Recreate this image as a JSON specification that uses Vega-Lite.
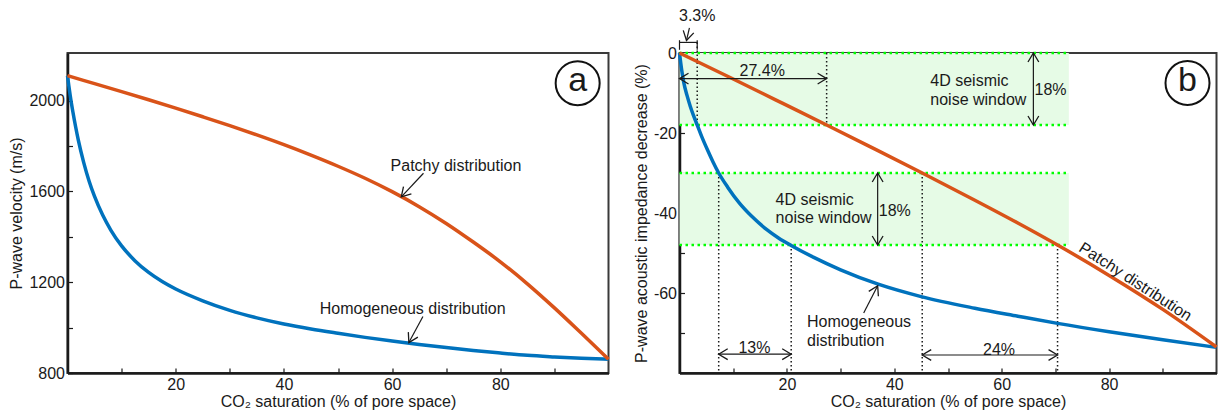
{
  "$schema": "https://vega.github.io/schema/vega-lite/v6.json",
  "background": "white",
  "padding": {"left": 7.5, "top": 7, "right": 0, "bottom": 0},
  "spacing": 71,
  "bounds": "flush",
  "config": {
    "font": "Liberation Sans",
    "view": {"stroke": "#3a3a3a", "strokeWidth": 2},
    "axis": {"domainColor": "#1a1a1a", "domainWidth": 2.5, "tickColor": "#1a1a1a", "tickWidth": 1.2, "tickSize": -5, "labelFontSize": 16, "labelColor": "#1a1a1a", "labelPadding": 8, "titleFontSize": 16, "titleFontWeight": "normal", "titleColor": "#1a1a1a", "grid": false, "labelFont": "Liberation Sans", "titleFont": "Liberation Sans"},
    "axisX": {"titlePadding": 1, "labelPadding": 8},
    "axisY": {"titlePadding": 4},
    "text": {"font": "Liberation Sans", "fontSize": 16, "color": "#1a1a1a"}
  },
  "datasets": {
    "curveA": [
      {"x": 0, "y": 2110, "dist": "Homogeneous"}, {"x": 0.25, "y": 2065, "dist": "Homogeneous"}, {"x": 0.5, "y": 2023, "dist": "Homogeneous"}, {"x": 1, "y": 1950, "dist": "Homogeneous"}, {"x": 1.5, "y": 1885, "dist": "Homogeneous"}, {"x": 2, "y": 1826, "dist": "Homogeneous"}, {"x": 3, "y": 1727, "dist": "Homogeneous"}, {"x": 4, "y": 1645, "dist": "Homogeneous"}, {"x": 5, "y": 1578, "dist": "Homogeneous"}, {"x": 6.5, "y": 1496, "dist": "Homogeneous"}, {"x": 8, "y": 1430, "dist": "Homogeneous"}, {"x": 10, "y": 1360, "dist": "Homogeneous"}, {"x": 12.5, "y": 1294, "dist": "Homogeneous"}, {"x": 15, "y": 1243, "dist": "Homogeneous"}, {"x": 17.5, "y": 1203, "dist": "Homogeneous"}, {"x": 20, "y": 1170, "dist": "Homogeneous"}, {"x": 25, "y": 1118, "dist": "Homogeneous"}, {"x": 30, "y": 1076, "dist": "Homogeneous"}, {"x": 35, "y": 1043, "dist": "Homogeneous"}, {"x": 40, "y": 1016, "dist": "Homogeneous"}, {"x": 45, "y": 994, "dist": "Homogeneous"}, {"x": 50, "y": 975, "dist": "Homogeneous"}, {"x": 55, "y": 957, "dist": "Homogeneous"}, {"x": 60, "y": 941, "dist": "Homogeneous"}, {"x": 65, "y": 926, "dist": "Homogeneous"}, {"x": 70, "y": 912, "dist": "Homogeneous"}, {"x": 75, "y": 899, "dist": "Homogeneous"}, {"x": 80, "y": 888, "dist": "Homogeneous"}, {"x": 85, "y": 878, "dist": "Homogeneous"}, {"x": 90, "y": 871, "dist": "Homogeneous"}, {"x": 95, "y": 865, "dist": "Homogeneous"}, {"x": 100, "y": 861, "dist": "Homogeneous"},
      {"x": 0, "y": 2110, "dist": "Patchy"}, {"x": 5, "y": 2075, "dist": "Patchy"}, {"x": 10, "y": 2040, "dist": "Patchy"}, {"x": 15, "y": 2004, "dist": "Patchy"}, {"x": 20, "y": 1967, "dist": "Patchy"}, {"x": 25, "y": 1929, "dist": "Patchy"}, {"x": 30, "y": 1890, "dist": "Patchy"}, {"x": 35, "y": 1849, "dist": "Patchy"}, {"x": 40, "y": 1806, "dist": "Patchy"}, {"x": 45, "y": 1760, "dist": "Patchy"}, {"x": 50, "y": 1711, "dist": "Patchy"}, {"x": 55, "y": 1658, "dist": "Patchy"}, {"x": 60, "y": 1599, "dist": "Patchy"}, {"x": 65, "y": 1533, "dist": "Patchy"}, {"x": 70, "y": 1459, "dist": "Patchy"}, {"x": 75, "y": 1377, "dist": "Patchy"}, {"x": 80, "y": 1290, "dist": "Patchy"}, {"x": 85, "y": 1193, "dist": "Patchy"}, {"x": 90, "y": 1087, "dist": "Patchy"}, {"x": 95, "y": 975, "dist": "Patchy"}, {"x": 100, "y": 861, "dist": "Patchy"}
    ],
    "curveB": [
      {"x": 0, "y": 0, "dist": "Homogeneous"}, {"x": 0.4, "y": -4.2, "dist": "Homogeneous"}, {"x": 0.8, "y": -7.4, "dist": "Homogeneous"}, {"x": 1.4, "y": -10.6, "dist": "Homogeneous"}, {"x": 2, "y": -13.3, "dist": "Homogeneous"}, {"x": 2.6, "y": -15.6, "dist": "Homogeneous"}, {"x": 3.3, "y": -18, "dist": "Homogeneous"}, {"x": 4.2, "y": -21.1, "dist": "Homogeneous"}, {"x": 5.2, "y": -24.2, "dist": "Homogeneous"}, {"x": 6.2, "y": -27.1, "dist": "Homogeneous"}, {"x": 7.3, "y": -30, "dist": "Homogeneous"}, {"x": 9, "y": -33.6, "dist": "Homogeneous"}, {"x": 11.2, "y": -37.6, "dist": "Homogeneous"}, {"x": 13.5, "y": -40.9, "dist": "Homogeneous"}, {"x": 16.2, "y": -44.1, "dist": "Homogeneous"}, {"x": 18.5, "y": -46.3, "dist": "Homogeneous"}, {"x": 20.8, "y": -48.1, "dist": "Homogeneous"}, {"x": 25, "y": -51.1, "dist": "Homogeneous"}, {"x": 30, "y": -54.2, "dist": "Homogeneous"}, {"x": 37, "y": -57.8, "dist": "Homogeneous"}, {"x": 45, "y": -60.9, "dist": "Homogeneous"}, {"x": 55, "y": -63.8, "dist": "Homogeneous"}, {"x": 63, "y": -65.8, "dist": "Homogeneous"}, {"x": 70.4, "y": -67.6, "dist": "Homogeneous"}, {"x": 80, "y": -69.7, "dist": "Homogeneous"}, {"x": 90, "y": -71.7, "dist": "Homogeneous"}, {"x": 100, "y": -73.6, "dist": "Homogeneous"},
      {"x": 0, "y": 0, "dist": "Patchy"}, {"x": 10, "y": -6.5, "dist": "Patchy"}, {"x": 20, "y": -13.1, "dist": "Patchy"}, {"x": 27.4, "y": -18, "dist": "Patchy"}, {"x": 35, "y": -23.1, "dist": "Patchy"}, {"x": 45.2, "y": -30, "dist": "Patchy"}, {"x": 55, "y": -36.8, "dist": "Patchy"}, {"x": 63, "y": -42.5, "dist": "Patchy"}, {"x": 70.4, "y": -48, "dist": "Patchy"}, {"x": 80, "y": -55.6, "dist": "Patchy"}, {"x": 90, "y": -64.1, "dist": "Patchy"}, {"x": 100, "y": -73.5, "dist": "Patchy"}
    ],
    "bands": [{"x": 0, "x2": 72.5, "y": 0, "y2": -18}, {"x": 0, "x2": 72.5, "y": -30, "y2": -48}],
    "greenLines": [{"x": 0, "x2": 72.5, "y": 0}, {"x": 0, "x2": 72.5, "y": -18}, {"x": 0, "x2": 72.5, "y": -30}, {"x": 0, "x2": 72.5, "y": -48}],
    "vdots": [{"x": 3.3, "y": 2.65, "y2": -18}, {"x": 27.4, "y": 0, "y2": -18}, {"x": 7.3, "y": -30, "y2": -80}, {"x": 20.8, "y": -48, "y2": -80}, {"x": 45.2, "y": -30, "y2": -80}, {"x": 70.4, "y": -48, "y2": -80}],
    "segB": [
      {"x": 0, "y": -6.4, "x2": 27.4, "y2": -6.4},
      {"x": 65.9, "y": 0, "x2": 65.9, "y2": -18},
      {"x": 36.9, "y": -30, "x2": 36.9, "y2": -48},
      {"x": 7.3, "y": -75.3, "x2": 20.8, "y2": -75.3},
      {"x": 45.2, "y": -75.5, "x2": 70.4, "y2": -75.5},
      {"x": 0, "y": 2.65, "x2": 3.3, "y2": 2.65},
      {"x": 0, "y": 0.8, "x2": 0, "y2": 3.2},
      {"x": 3.3, "y": 0.8, "x2": 3.3, "y2": 3.2},
      {"x": 1.85, "y": 6.3, "x2": 1.3, "y2": 3.15},
      {"x": 34.3, "y": -65, "x2": 36.9, "y2": -58.2}
    ],
    "headsB": [
      {"x": 27.4, "y": -6.4, "dir": "right"}, {"x": 20.8, "y": -75.3, "dir": "right"}, {"x": 70.4, "y": -75.5, "dir": "right"},
      {"x": 0, "y": -6.4, "dir": "left"}, {"x": 7.3, "y": -75.3, "dir": "left"}, {"x": 45.2, "y": -75.5, "dir": "left"},
      {"x": 65.9, "y": 0, "dir": "up"}, {"x": 36.9, "y": -30, "dir": "up"},
      {"x": 65.9, "y": -18, "dir": "down"}, {"x": 36.9, "y": -48, "dir": "down"},
      {"x": 1.3, "y": 3.15, "dir": "pointer"},
      {"x": 36.9, "y": -58.2, "dir": "homog"}
    ],
    "textBc": [
      {"x": 3.3, "y": 9.15, "t": "3.3%"}, {"x": 15.4, "y": -4.6, "t": "27.4%"}, {"x": 69.1, "y": -9.2, "t": "18%"}, {"x": 40.1, "y": -39.6, "t": "18%"}, {"x": 13.95, "y": -73.7, "t": "13%"}, {"x": 59.5, "y": -74.2, "t": "24%"}
    ],
    "textBl": [
      {"x": 46.7, "y": -7.1, "t": "4D seismic"}, {"x": 46.7, "y": -11.7, "t": "noise window"},
      {"x": 17.9, "y": -36.7, "t": "4D seismic"}, {"x": 17.9, "y": -41.3, "t": "noise window"},
      {"x": 23.75, "y": -67.35, "t": "Homogeneous"}, {"x": 23.75, "y": -72.1, "t": "distribution"}
    ],
    "textBr": [{"x": 84.9, "y": -57.2, "t": "Patchy distribution"}],
    "panelB": [{"x": 94.6, "y": -7.5, "t": "b"}],
    "textA": [{"x": 71.8, "y": 1713, "t": "Patchy distribution"}, {"x": 63.8, "y": 1082, "t": "Homogeneous distribution"}],
    "segA": [{"x": 65.8, "y": 1680, "x2": 61.7, "y2": 1576}, {"x": 65.7, "y": 1049, "x2": 63.1, "y2": 934}],
    "headsA": [{"x": 61.7, "y": 1576, "dir": "patchy"}, {"x": 63.1, "y": 934, "dir": "homog"}],
    "panelA": [{"x": 94.3, "y": 2077, "t": "a"}]
  },
  "hconcat": [
    {
      "width": 541,
      "height": 320,
      "encoding": {
        "x": {"field": "x", "type": "quantitative", "scale": {"domain": [0, 100], "nice": false, "zero": false}, "axis": {"values": [10, 20, 30, 40, 50, 60, 70, 80, 90], "labelExpr": "datum.value % 20 == 0 ? '' + datum.value : ''", "title": "CO₂ saturation (% of pore space)"}},
        "y": {"field": "y", "type": "quantitative", "scale": {"domain": [800, 2210], "nice": false, "zero": false}, "axis": {"values": [800, 1000, 1200, 1400, 1600, 1800, 2000], "labelExpr": "datum.value % 400 == 0 ? '' + datum.value : ''", "title": "P-wave velocity (m/s)"}}
      },
      "layer": [
        {"data": {"name": "curveA"}, "mark": {"type": "line", "strokeWidth": 3.5, "interpolate": "monotone"}, "encoding": {"color": {"field": "dist", "type": "nominal", "scale": {"domain": ["Homogeneous", "Patchy"], "range": ["#0072BD", "#D95319"]}, "legend": null}}},
        {"data": {"name": "segA"}, "mark": {"type": "rule", "color": "#1a1a1a", "strokeWidth": 1.2}, "encoding": {"x2": {"field": "x2"}, "y2": {"field": "y2"}}},
        {"data": {"name": "headsA"}, "transform": [{"filter": "datum.dir == 'patchy'"}], "mark": {"type": "point", "shape": "M -1 -0.6 L 0 0 L -1 0.6", "filled": false, "stroke": "#1a1a1a", "strokeWidth": 1.3, "size": 324, "angle": 133, "opacity": 1}},
        {"data": {"name": "headsA"}, "transform": [{"filter": "datum.dir == 'homog'"}], "mark": {"type": "point", "shape": "M -1 -0.6 L 0 0 L -1 0.6", "filled": false, "stroke": "#1a1a1a", "strokeWidth": 1.3, "size": 324, "angle": 118, "opacity": 1}},
        {"data": {"name": "textA"}, "mark": {"type": "text", "align": "center", "baseline": "middle"}, "encoding": {"text": {"field": "t"}}},
        {"data": {"name": "panelA"}, "mark": {"type": "point", "shape": "circle", "filled": false, "stroke": "#111", "strokeWidth": 2, "size": 1936, "opacity": 1}},
        {"data": {"name": "panelA"}, "mark": {"type": "text", "align": "center", "baseline": "middle", "fontSize": 34, "dy": -2}, "encoding": {"text": {"field": "t"}}}
      ]
    },
    {
      "width": 537,
      "height": 320,
      "encoding": {
        "x": {"field": "x", "type": "quantitative", "scale": {"domain": [0, 100], "nice": false, "zero": false}, "axis": {"values": [10, 20, 30, 40, 50, 60, 70, 80, 90], "labelExpr": "datum.value % 20 == 0 ? '' + datum.value : ''", "title": "CO₂ saturation (% of pore space)"}},
        "y": {"field": "y", "type": "quantitative", "scale": {"domain": [-80, 0], "nice": false, "zero": false}, "axis": {"values": [-70, -60, -50, -40, -30, -20, -10, 0], "labelExpr": "datum.value % 20 == 0 ? '' + datum.value : ''", "title": "P-wave acoustic impedance decrease (%)"}}
      },
      "layer": [
        {"data": {"name": "bands"}, "mark": {"type": "rect", "color": "#e6fbe6"}, "encoding": {"x2": {"field": "x2"}, "y2": {"field": "y2"}}},
        {"data": {"name": "vdots"}, "mark": {"type": "rule", "color": "#1a1a1a", "strokeWidth": 1.5, "strokeDash": [1.5, 2.5]}, "encoding": {"y2": {"field": "y2"}}},
        {"data": {"name": "greenLines"}, "mark": {"type": "rule", "color": "#00ff00", "strokeWidth": 2.5, "strokeDash": [2.5, 3.5]}, "encoding": {"x2": {"field": "x2"}}},
        {"data": {"name": "curveB"}, "mark": {"type": "line", "strokeWidth": 3.5, "interpolate": "monotone"}, "encoding": {"color": {"field": "dist", "type": "nominal", "scale": {"domain": ["Homogeneous", "Patchy"], "range": ["#0072BD", "#D95319"]}, "legend": null}}},
        {"data": {"name": "segB"}, "mark": {"type": "rule", "color": "#1a1a1a", "strokeWidth": 1.2}, "encoding": {"x2": {"field": "x2"}, "y2": {"field": "y2"}}},
        {"data": {"name": "headsB"}, "transform": [{"filter": "datum.dir == 'right'"}], "mark": {"type": "point", "shape": "M -1 -0.6 L 0 0 L -1 0.6", "filled": false, "stroke": "#1a1a1a", "strokeWidth": 1.3, "size": 324, "angle": 0, "opacity": 1}},
        {"data": {"name": "headsB"}, "transform": [{"filter": "datum.dir == 'left'"}], "mark": {"type": "point", "shape": "M -1 -0.6 L 0 0 L -1 0.6", "filled": false, "stroke": "#1a1a1a", "strokeWidth": 1.3, "size": 324, "angle": 180, "opacity": 1}},
        {"data": {"name": "headsB"}, "transform": [{"filter": "datum.dir == 'up'"}], "mark": {"type": "point", "shape": "M -1 -0.6 L 0 0 L -1 0.6", "filled": false, "stroke": "#1a1a1a", "strokeWidth": 1.3, "size": 324, "angle": 270, "opacity": 1}},
        {"data": {"name": "headsB"}, "transform": [{"filter": "datum.dir == 'down'"}], "mark": {"type": "point", "shape": "M -1 -0.6 L 0 0 L -1 0.6", "filled": false, "stroke": "#1a1a1a", "strokeWidth": 1.3, "size": 324, "angle": 90, "opacity": 1}},
        {"data": {"name": "headsB"}, "transform": [{"filter": "datum.dir == 'pointer'"}], "mark": {"type": "point", "shape": "M -1 -0.6 L 0 0 L -1 0.6", "filled": false, "stroke": "#1a1a1a", "strokeWidth": 1.3, "size": 324, "angle": 103, "opacity": 1}},
        {"data": {"name": "headsB"}, "transform": [{"filter": "datum.dir == 'homog'"}], "mark": {"type": "point", "shape": "M -1 -0.6 L 0 0 L -1 0.6", "filled": false, "stroke": "#1a1a1a", "strokeWidth": 1.3, "size": 324, "angle": 297, "opacity": 1}},
        {"data": {"name": "textBc"}, "mark": {"type": "text", "align": "center", "baseline": "middle"}, "encoding": {"text": {"field": "t"}}},
        {"data": {"name": "textBl"}, "mark": {"type": "text", "align": "left", "baseline": "middle"}, "encoding": {"text": {"field": "t"}}},
        {"data": {"name": "textBr"}, "mark": {"type": "text", "align": "center", "baseline": "middle", "angle": 33}, "encoding": {"text": {"field": "t"}}},
        {"data": {"name": "panelB"}, "mark": {"type": "point", "shape": "circle", "filled": false, "stroke": "#111", "strokeWidth": 2, "size": 1936, "opacity": 1}},
        {"data": {"name": "panelB"}, "mark": {"type": "text", "align": "center", "baseline": "middle", "fontSize": 34, "dy": -2}, "encoding": {"text": {"field": "t"}}}
      ]
    }
  ]
}
